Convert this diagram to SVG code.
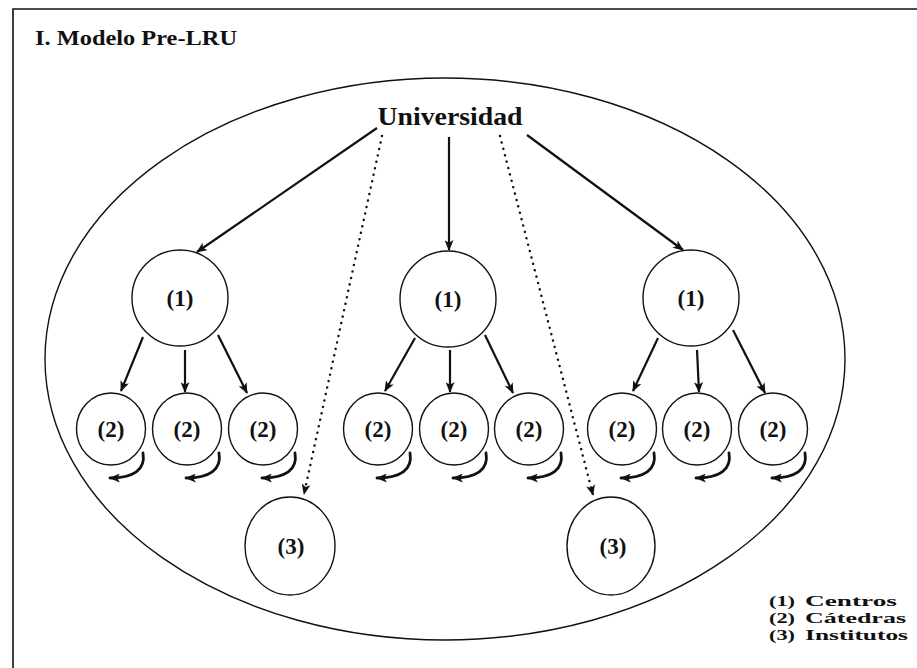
<svg xmlns="http://www.w3.org/2000/svg" width="917" height="668" viewBox="0 0 917 668">
  <style>
    .frame { fill: none; stroke: #111; stroke-width: 1.6; }
    .node { fill: #fff; stroke: #111; stroke-width: 1.4; }
    .outline { fill: none; stroke: #111; stroke-width: 1.4; }
    .lbl { font-family: "Liberation Serif", "Times New Roman", Times, serif; font-weight: bold; fill: #111; }
    .num { font-size: 23px; text-anchor: middle; }
    .arrow { fill: none; stroke: #111; stroke-width: 2.2; marker-end: url(#head); }
    .dots { fill: none; stroke: #111; stroke-width: 2.4; stroke-linecap: round; stroke-dasharray: 0.1 6.5; marker-end: url(#head); }
    .loop { fill: none; stroke: #111; stroke-width: 2.8; stroke-linecap: round; marker-end: url(#head); }
  </style>
  <defs>
    <marker id="head" viewBox="0 0 12 10" refX="11" refY="5" markerWidth="11" markerHeight="9" markerUnits="userSpaceOnUse" orient="auto">
      <path d="M0,0 L12,5 L0,10 L3,5 z" fill="#111"/>
    </marker>
  </defs>

  <!-- page frame -->
  <path class="frame" d="M13,668 L13,9 L917,9"/>

  <!-- title -->
  <text class="lbl" x="35" y="45" font-size="20" textLength="202" lengthAdjust="spacingAndGlyphs">I. Modelo Pre-LRU</text>

  <!-- university boundary -->
  <ellipse class="outline" cx="445" cy="359" rx="400" ry="281"/>

  <g id="universidad">
    <text class="lbl" x="450" y="125" font-size="26" text-anchor="middle" textLength="145" lengthAdjust="spacingAndGlyphs">Universidad</text>
  </g>

  <!-- centres -->
  <g id="centro-1"><circle class="node" cx="180" cy="298" r="48"/><text class="lbl num" x="180" y="306">(1)</text></g>
  <g id="centro-2"><circle class="node" cx="448" cy="299" r="48"/><text class="lbl num" x="448" y="307">(1)</text></g>
  <g id="centro-3"><circle class="node" cx="691" cy="298" r="48"/><text class="lbl num" x="691" y="306">(1)</text></g>

  <!-- chairs -->
  <g id="catedra-1"><ellipse class="node" cx="111" cy="429" rx="34.5" ry="36"/><text class="lbl num" x="111" y="437">(2)</text></g>
  <g id="catedra-2"><ellipse class="node" cx="187" cy="429" rx="34.5" ry="36"/><text class="lbl num" x="187" y="437">(2)</text></g>
  <g id="catedra-3"><ellipse class="node" cx="263" cy="429" rx="34.5" ry="36"/><text class="lbl num" x="263" y="437">(2)</text></g>
  <g id="catedra-4"><ellipse class="node" cx="378" cy="429" rx="34.5" ry="36"/><text class="lbl num" x="378" y="437">(2)</text></g>
  <g id="catedra-5"><ellipse class="node" cx="454" cy="429" rx="34.5" ry="36"/><text class="lbl num" x="454" y="437">(2)</text></g>
  <g id="catedra-6"><ellipse class="node" cx="529" cy="429" rx="34.5" ry="36"/><text class="lbl num" x="529" y="437">(2)</text></g>
  <g id="catedra-7"><ellipse class="node" cx="622" cy="429" rx="34.5" ry="36"/><text class="lbl num" x="622" y="437">(2)</text></g>
  <g id="catedra-8"><ellipse class="node" cx="697" cy="429" rx="34.5" ry="36"/><text class="lbl num" x="697" y="437">(2)</text></g>
  <g id="catedra-9"><ellipse class="node" cx="773" cy="429" rx="34.5" ry="36"/><text class="lbl num" x="773" y="437">(2)</text></g>

  <!-- institutes -->
  <g id="instituto-1"><ellipse class="node" cx="290" cy="546" rx="45" ry="49"/><text class="lbl num" x="291" y="554">(3)</text></g>
  <g id="instituto-2"><ellipse class="node" cx="611" cy="546" rx="44" ry="49"/><text class="lbl num" x="613" y="554">(3)</text></g>

  <g id="connectors">
    <!-- university to centres -->
    <line class="arrow" x1="377" y1="128" x2="197" y2="252"/>
    <line class="arrow" x1="449" y1="137" x2="449" y2="250"/>
    <line class="arrow" x1="527" y1="135" x2="683" y2="250"/>
    <!-- university to institutes -->
    <line class="dots" x1="382" y1="136" x2="304" y2="494"/>
    <line class="dots" x1="500" y1="136" x2="593" y2="495"/>
    <!-- centres to chairs -->
    <line class="arrow" x1="143" y1="337" x2="121" y2="391"/>
    <line class="arrow" x1="185" y1="350" x2="185" y2="392"/>
    <line class="arrow" x1="218" y1="335" x2="247" y2="393"/>
    <line class="arrow" x1="415" y1="338" x2="385" y2="391"/>
    <line class="arrow" x1="450" y1="350" x2="450" y2="392"/>
    <line class="arrow" x1="485" y1="335" x2="513" y2="393"/>
    <line class="arrow" x1="658" y1="338" x2="633" y2="391"/>
    <line class="arrow" x1="697" y1="350" x2="699" y2="392"/>
    <line class="arrow" x1="733" y1="330" x2="765" y2="393"/>
    <!-- chair self-loops -->
    <path class="loop" d="M143,453 C146,470 133,478 110,478"/>
    <path class="loop" d="M219,453 C222,470 209,478 186,478"/>
    <path class="loop" d="M295,453 C298,470 285,478 262,478"/>
    <path class="loop" d="M410,453 C413,470 400,478 377,478"/>
    <path class="loop" d="M486,453 C489,470 476,478 453,478"/>
    <path class="loop" d="M561,453 C564,470 551,478 528,478"/>
    <path class="loop" d="M654,453 C657,470 644,478 621,478"/>
    <path class="loop" d="M729,453 C732,470 719,478 696,478"/>
    <path class="loop" d="M805,453 C808,470 795,478 772,478"/>
  </g>

  <!-- legend -->
  <g id="leyenda" class="lbl" font-size="15">
    <text x="769" y="606" textLength="26" lengthAdjust="spacingAndGlyphs">(1)</text><text x="805" y="606" textLength="92" lengthAdjust="spacingAndGlyphs">Centros</text>
    <text x="769" y="623" textLength="26" lengthAdjust="spacingAndGlyphs">(2)</text><text x="805" y="623" textLength="101" lengthAdjust="spacingAndGlyphs">Cátedras</text>
    <text x="769" y="640" textLength="26" lengthAdjust="spacingAndGlyphs">(3)</text><text x="805" y="640" textLength="103" lengthAdjust="spacingAndGlyphs">Institutos</text>
  </g>
</svg>
